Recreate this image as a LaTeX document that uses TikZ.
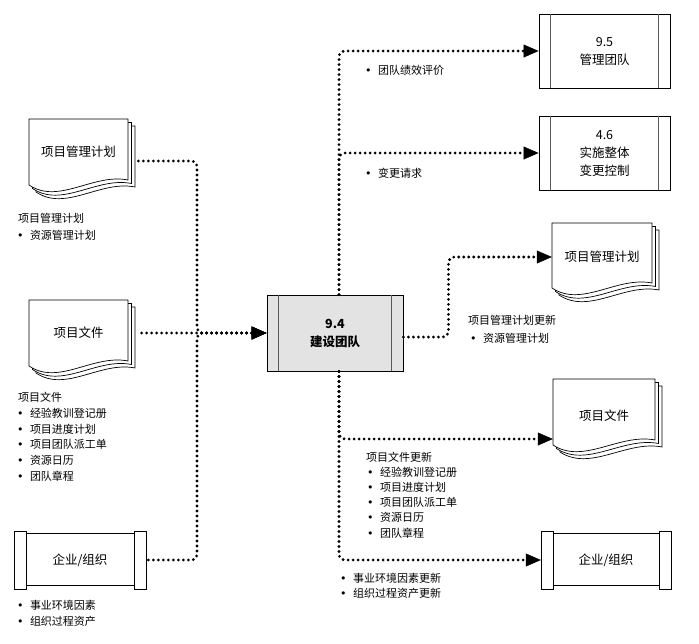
\documentclass[tikz,border=0pt]{standalone}
\usepackage{fontspec}
\setmainfont{Noto Sans CJK SC}
\newfontfamily\dv{DejaVu Sans}
\usetikzlibrary{arrows.meta}
\newcommand\bul{\makebox[13pt][l]{\dv •}}
\newcommand\docshape[4]{%
  \foreach \o in {7,3.5,0}{%
    \draw[docl] ({#1+\o},{#2+\o}) -- ({#1+#3+\o},{#2+\o}) -- ({#1+#3+\o},{#2+#4-5+\o})
      .. controls ({#1+0.65*#3+\o},{#2+#4-12+\o}) and ({#1+0.3*#3+\o},{#2+#4+20+\o}) .. ({#1+\o},{#2+#4+\o}) -- cycle;}}
\newcommand\orgshape[4]{%
  \draw[orgl] ({#1+12},{#2+2.5}) rectangle ({#1+#3-12},{#2+#4-3.5});
  \draw[orgl] (#1,#2) rectangle ({#1+12},{#2+#4});
  \draw[orgl] ({#1+#3-12},#2) rectangle ({#1+#3},{#2+#4});}
\tikzset{
  conn/.style={line width=3.1pt, dash pattern=on 0pt off 5pt, line cap=round, rounded corners=6pt, draw=black},
  tipin/.style={{Triangle[length=15pt,width=13pt,line width=0.4pt]}-},
  tipout/.style={-{Triangle[length=15pt,width=13pt,line width=0.4pt]}},
  docl/.style={draw=black, fill=white, line width=0.7pt},
  orgl/.style={draw=black, fill=white, line width=0.9pt},
  capl/.style={draw=black!65, line width=0.7pt},
  proc/.style={draw=black, line width=0.9pt, fill=white, align=center, inner sep=0pt,
    font=\fontsize{12.5}{18}\selectfont, text=black},
  ttl/.style={inner sep=0pt, align=center, font=\fontsize{12.5}{18}\selectfont, text=black},
  lbl/.style={font=\fontsize{11}{13}\selectfont, inner sep=0pt, anchor=west, text height=9.7pt, text depth=1.3pt, text=black},
}
\begin{document}
\begin{tikzpicture}[x=1pt,y=-1pt]
\fill[white] (0,0) rectangle (699,643);
\useasboundingbox (0,0) rectangle (699,643);

% ---------- left inputs ----------
\docshape{29}{119}{99}{66}
\node[ttl, minimum width=99pt, minimum height=40pt] (d1) at (78.5,152) {项目管理计划};
\docshape{29}{300}{99}{66}
\node[ttl, minimum width=99pt, minimum height=40pt] (d2) at (78.5,333) {项目文件};
\orgshape{14}{531}{132}{58}
\node[ttl, minimum width=132pt, minimum height=58pt] (o1) at (80,560) {企业/组织};

% ---------- central process ----------
\node[proc, fill=black!11, minimum width=136pt, minimum height=76pt, font=\bfseries\fontsize{12.5}{18}\selectfont] (c) at (335,333) {9.4\\建设团队};
\draw[capl] ([xshift=12pt]c.north west) -- ([xshift=12pt]c.south west);
\draw[capl] ([xshift=-12pt]c.north east) -- ([xshift=-12pt]c.south east);

% ---------- right outputs ----------
\node[proc, minimum width=131pt, minimum height=74pt] (b95) at (604.5,51) {9.5\\管理团队};
\draw[capl] ([xshift=12pt]b95.north west) -- ([xshift=12pt]b95.south west);
\draw[capl] ([xshift=-12pt]b95.north east) -- ([xshift=-12pt]b95.south east);
\node[proc, minimum width=131pt, minimum height=74pt] (b46) at (604.5,153) {4.6\\实施整体\\变更控制};
\draw[capl] ([xshift=12pt]b46.north west) -- ([xshift=12pt]b46.south west);
\draw[capl] ([xshift=-12pt]b46.north east) -- ([xshift=-12pt]b46.south east);

\docshape{552}{223}{100}{65}
\node[ttl, minimum width=100pt, minimum height=40pt] (r1) at (602,257) {项目管理计划};
\docshape{553}{379}{102}{66}
\node[ttl, minimum width=102pt, minimum height=40pt] (r2) at (604,416) {项目文件};
\orgshape{541}{531}{130}{58}
\node[ttl, minimum width=130pt, minimum height=58pt] (o2) at (606,560) {企业/组织};

% ---------- connectors ----------
\coordinate (jl) at (197,333);
\draw[conn, tipin] (c.west) -- ([xshift=10pt]d2.east);
\draw[conn, tipin] (c.west) -- (jl) |- ([shift={(10,9)}]d1.east);
\draw[conn, tipin] (c.west) -- (jl) |- ([xshift=1pt]o1.east);

\coordinate (cn) at ([xshift=4pt]c.north);
\draw[conn, tipout] (cn) |- (b95.west);
\draw[conn, tipout] (cn) |- (b46.west);
\draw[conn, tipout] ([shift={(0,4)}]c.east) -- ++(45,0) |- (r1.west);
\coordinate (cs) at ([xshift=4pt]c.south);
\draw[conn, tipout] (cs) |- ([shift={(0,23)}]r2.west);
\draw[conn, tipout] (cs) |- (o2.west);

% ---------- labels ----------
\node[lbl] (l1a) at (18,218) {项目管理计划};
\node[lbl] (l1b) at (16.8,235) {\bul 资源管理计划};

\node[lbl] (l2a) at (18,397) {项目文件};
\node[lbl] (l2b) at (16.8,413) {\bul 经验教训登记册};
\node[lbl] (l2c) at (16.8,429) {\bul 项目进度计划};
\node[lbl] (l2d) at (16.8,444) {\bul 项目团队派工单};
\node[lbl] (l2e) at (16.8,460) {\bul 资源日历};
\node[lbl] (l2f) at (16.8,476) {\bul 团队章程};

\node[lbl] (l3a) at (16.8,605) {\bul 事业环境因素};
\node[lbl] (l3b) at (16.8,621) {\bul 组织过程资产};

\node[lbl] (r0a) at (364.8,70) {\bul 团队绩效评价};
\node[lbl] (r0b) at (364.8,173) {\bul 变更请求};

\node[lbl] (r1a) at (468,320) {项目管理计划更新};
\node[lbl] (r1b) at (469.8,338) {\bul 资源管理计划};

\node[lbl] (r2a) at (366,457) {项目文件更新};
\node[lbl] (r2b) at (366.8,472) {\bul 经验教训登记册};
\node[lbl] (r2c) at (366.8,487) {\bul 项目进度计划};
\node[lbl] (r2d) at (366.8,502) {\bul 项目团队派工单};
\node[lbl] (r2e) at (366.8,517) {\bul 资源日历};
\node[lbl] (r2f) at (366.8,533) {\bul 团队章程};

\node[lbl] (r3a) at (339.8,578) {\bul 事业环境因素更新};
\node[lbl] (r3b) at (339.8,593) {\bul 组织过程资产更新};
\end{tikzpicture}
\end{document}
